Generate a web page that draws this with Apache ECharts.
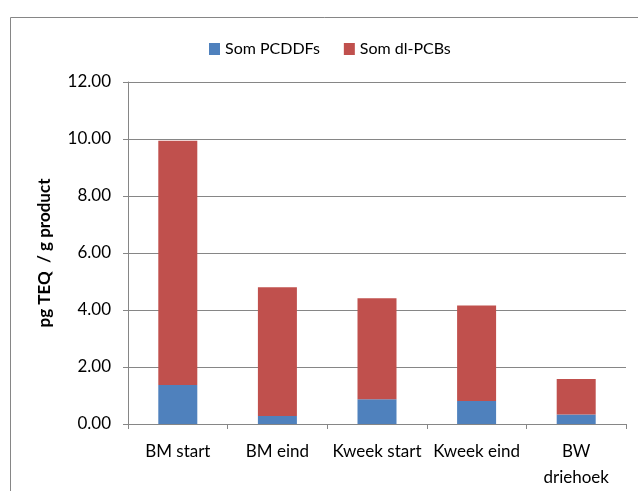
<!DOCTYPE html>
<html>
<head>
<meta charset="utf-8">
<script src="https://cdn.jsdelivr.net/npm/echarts@6/dist/echarts.min.js"></script>
<style>
html,body{margin:0;padding:0;background:#fff;}
#chart{width:638px;height:491px;}
</style>
</head>
<body>
<div id="chart"></div>
<script>
var categories = ['BM start', 'BM eind', 'Kweek start', 'Kweek eind', 'BW\ndriehoek'];
var seriesNames = ['Som PCDDFs', 'Som dl-PCBs'];
var pcddfs = [1.37, 0.28, 0.87, 0.81, 0.33];
var totals = [9.94, 4.80, 4.41, 4.16, 1.58];
var dlpcbs = totals.map(function (t, i) { return +(t - pcddfs[i]).toFixed(2); });
var yTicks = [0, 2, 4, 6, 8, 10, 12];
var yTitle = 'pg TEQ  / g product';

var font = 'Lato';
var chart = echarts.init(document.getElementById('chart'));
chart.setOption({
  backgroundColor: '#ffffff',
  animation: false,
  textStyle: { fontFamily: font },
  graphic: [{
    type: 'rect',
    shape: { x: 10.5, y: 17.5, width: 640, height: 500 },
    style: { fill: 'none', stroke: '#868686', lineWidth: 1 },
    silent: true
  }],
  legend: {
    left: 204,
    top: 36,
    itemWidth: 11,
    itemHeight: 12,
    itemGap: 24,
    icon: 'rect',
    textStyle: { fontFamily: font, fontSize: 16, color: '#000' },
    data: seriesNames
  },
  grid: { left: 128, right: 12, top: 82, bottom: 67 },
  xAxis: {
    type: 'category',
    data: categories,
    axisLine: { lineStyle: { color: '#868686', width: 1 } },
    axisTick: { show: true, length: 5, lineStyle: { color: '#868686' } },
    axisLabel: { color: '#000', fontFamily: font, fontSize: 17, margin: 15, lineHeight: 26, interval: 0 }
  },
  yAxis: {
    type: 'value',
    min: yTicks[0],
    max: yTicks[yTicks.length - 1],
    interval: 2,
    name: yTitle,
    nameLocation: 'middle',
    nameGap: 75,
    nameTextStyle: { fontFamily: font, fontSize: 17, fontWeight: 'bold', color: '#000' },
    axisLine: { show: true, lineStyle: { color: '#868686', width: 1 } },
    axisTick: { show: true, length: 5, lineStyle: { color: '#868686' } },
    axisLabel: { color: '#000', fontFamily: font, fontSize: 17, margin: 17, formatter: function (v) { return v.toFixed(2); } },
    splitLine: { show: true, lineStyle: { color: '#868686', width: 1 } }
  },
  series: [
    {
      name: seriesNames[0], type: 'bar', stack: 'total', barWidth: 39,
      itemStyle: { color: '#4F81BD' },
      data: pcddfs
    },
    {
      name: seriesNames[1], type: 'bar', stack: 'total', barWidth: 39,
      itemStyle: { color: '#C0504D' },
      data: dlpcbs
    }
  ]
});
</script>
</body>
</html>
